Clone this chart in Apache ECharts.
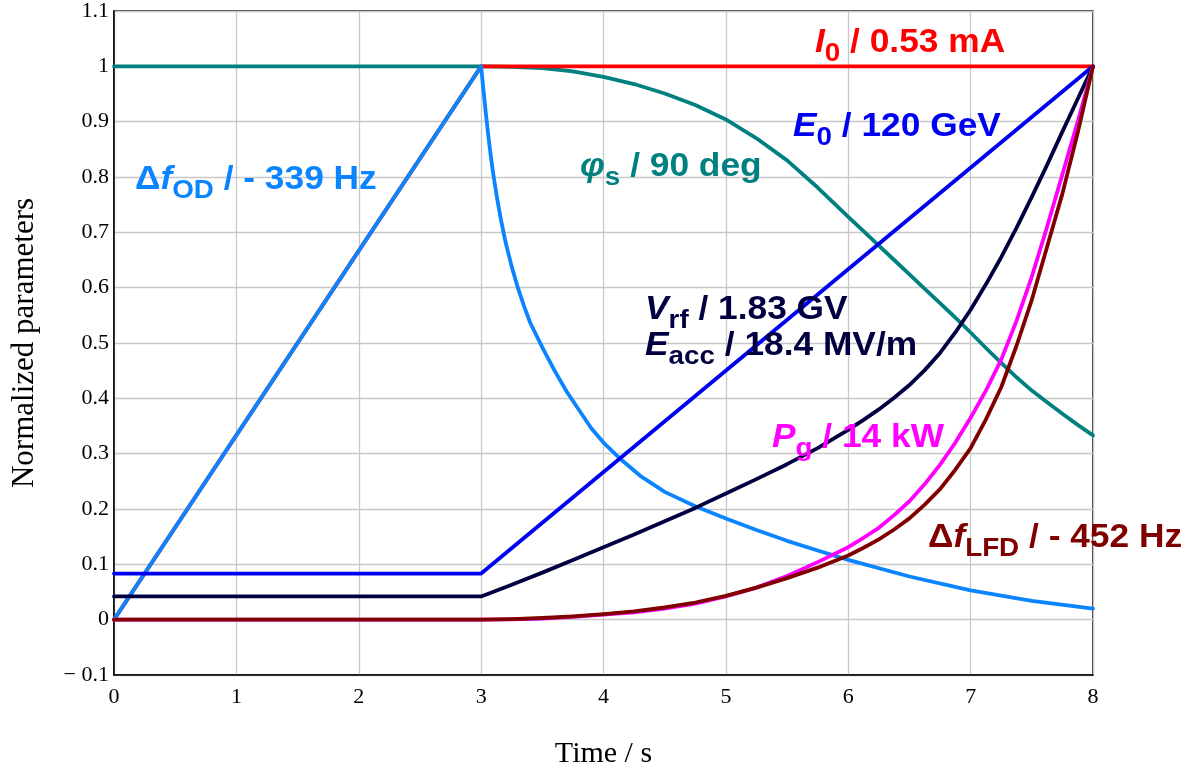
<!DOCTYPE html>
<html>
<head>
<meta charset="utf-8">
<title>Normalized ramp parameters</title>
<script src="https://cdn.jsdelivr.net/npm/echarts@6/dist/echarts.min.js"></script>
<style>
  html, body { margin: 0; padding: 0; background: #fff; }
  #chart { width: 1187px; height: 766px; }
</style>
</head>
<body>
<div id="chart"></div>
<script>
// Ramp: beam current and beam energy (linear pieces)
const tRamp = [0, 3, 8];
const beamCurrent = [0, 1, 1];          // I0 / 0.53 mA
const beamEnergy = [0.0833, 0.0833, 1]; // E0 / 120 GeV

// Common time base for the curved quantities (denser where they bend most)
const tCurve = [0, 3, 3.25, 3.5, 3.75, 4, 4.25, 4.5, 4.75, 5, 5.25, 5.5, 5.75, 6,
                6.125, 6.25, 6.375, 6.5, 6.625, 6.75, 6.875, 7, 7.125, 7.25, 7.375,
                7.5, 7.625, 7.75, 7.875, 8];
const syncPhase = [1, 1, 0.999, 0.997, 0.991, 0.981, 0.968, 0.951, 0.930, 0.904, 0.870,
                   0.830, 0.781, 0.728, 0.702, 0.676, 0.650, 0.624, 0.598, 0.572, 0.546,
                   0.519, 0.491, 0.464, 0.438, 0.414, 0.393, 0.372, 0.352, 0.333]; // phi_s / 90 deg
const rfVoltage = [0.042, 0.042, 0.063, 0.085, 0.108, 0.131, 0.154, 0.178, 0.202, 0.228,
                   0.254, 0.281, 0.310, 0.343, 0.361, 0.380, 0.401, 0.424, 0.451, 0.482,
                   0.519, 0.560, 0.606, 0.655, 0.708, 0.764, 0.822, 0.882, 0.941, 1];   // Vrf / 1.83 GV
const forwardPower = [0, 0, 0.0005, 0.002, 0.005, 0.009, 0.013, 0.020, 0.029, 0.042,
                      0.058, 0.079, 0.104, 0.131, 0.148, 0.166, 0.189, 0.214, 0.245, 0.280,
                      0.320, 0.365, 0.414, 0.470, 0.540, 0.620, 0.710, 0.805, 0.900, 1]; // Pg / 14 kW
const lorentzDetuning = [0, 0, 0.001, 0.003, 0.006, 0.010, 0.015, 0.022, 0.031, 0.043,
                         0.058, 0.075, 0.094, 0.116, 0.130, 0.145, 0.163, 0.183, 0.208, 0.236,
                         0.271, 0.310, 0.362, 0.420, 0.495, 0.578, 0.674, 0.770, 0.880, 1]; // dfLFD / -452 Hz

// Optimum detuning has its own time base, dense right after the peak
const tDetune = [0, 3, 3.02, 3.04, 3.06, 3.08, 3.1, 3.13, 3.16, 3.2, 3.25, 3.3, 3.35, 3.4,
                 3.5, 3.6, 3.7, 3.8, 3.9, 4, 4.15, 4.3, 4.5, 4.75, 5, 5.25, 5.5, 5.75, 6,
                 6.5, 7, 7.5, 8];
const optimumDetuning = [0, 1, 0.955, 0.912, 0.872, 0.836, 0.804, 0.762, 0.725, 0.682, 0.638,
                         0.600, 0.567, 0.537, 0.492, 0.450, 0.412, 0.379, 0.346, 0.320, 0.288,
                         0.260, 0.231, 0.205, 0.183, 0.162, 0.1425, 0.125, 0.108, 0.078,
                         0.053, 0.034, 0.020]; // dfOD / -339 Hz

const colors = {
  current: '#ff0000',
  energy: '#0000f0',
  phase: '#008080',
  detuneOD: '#0a84ff',
  voltage: '#000040',
  power: '#ff00ff',
  detuneLFD: '#800000'
};

const pairs = (ts, vs) => ts.map((t, i) => [t, vs[i]]);

function lineSeries(name, ts, vs, color) {
  return {
    name: name,
    type: 'line',
    data: pairs(ts, vs),
    showSymbol: false,
    symbol: 'none',
    lineStyle: { color: color, width: 3.8, cap: 'round', join: 'round' },
    itemStyle: { color: color },
    silent: true,
    animation: false
  };
}

const labelFont = 'Liberation Sans, Arial, sans-serif';
function richStyles(color) {
  const base = { fontFamily: labelFont, fontWeight: 'bold', fill: color };
  return {
    m: Object.assign({}, base, { fontSize: 33, lineHeight: 36 }),
    i: Object.assign({}, base, { fontSize: 33, lineHeight: 36, fontStyle: 'italic' }),
    s: Object.assign({}, base, { fontSize: 26, lineHeight: 26, padding: [22, 0, 0, 0] })
  };
}
function curveLabel(text, x, y, color) {
  return {
    type: 'text',
    x: x, y: y,
    scaleX: 1.07,
    z: 100,
    silent: true,
    style: {
      text: text,
      rich: richStyles(color),
      align: 'left',
      verticalAlign: 'top',
      fill: color
    }
  };
}

const serif = 'Liberation Serif, Times New Roman, serif';
const chart = echarts.init(document.getElementById('chart'), null, { renderer: 'canvas' });
chart.setOption({
  animation: false,
  backgroundColor: '#ffffff',
  grid: {
    left: 114, right: 94, top: 11, bottom: 91,
    show: true, borderColor: '#000', borderWidth: 1.5,
    outerBoundsMode: 'none'
  },
  xAxis: {
    type: 'value',
    min: 0, max: 8, interval: 1,
    name: 'Time / s',
    nameLocation: 'middle',
    nameGap: 64,
    nameTextStyle: { fontFamily: serif, fontSize: 30, color: '#000' },
    axisLine: { show: true, onZero: false, lineStyle: { color: '#000', width: 1.5 } },
    axisTick: { show: false },
    axisLabel: { fontFamily: serif, fontSize: 22, color: '#000', margin: 11 },
    splitLine: { show: true, lineStyle: { color: '#c8c8c8', width: 1.3 } }
  },
  yAxis: {
    type: 'value',
    min: -0.1, max: 1.1, interval: 0.1,
    name: 'Normalized parameters',
    nameLocation: 'middle',
    nameGap: 74,
    nameRotate: 90,
    nameTextStyle: { fontFamily: serif, fontSize: 31, color: '#000' },
    axisLine: { show: true, onZero: false, lineStyle: { color: '#000', width: 1.5 } },
    axisTick: { show: false },
    axisLabel: {
      fontFamily: serif, fontSize: 22, color: '#000', margin: 5,
      formatter: function (v) {
        const r = Math.round(v * 10) / 10;
        return r < 0 ? '\u2212 ' + Math.abs(r) : String(r);
      }
    },
    splitLine: { show: true, lineStyle: { color: '#c8c8c8', width: 1.3 } }
  },
  series: [
    lineSeries('phi_s', tCurve, syncPhase, colors.phase),
    lineSeries('I0', tRamp, beamCurrent, colors.current),
    lineSeries('df_OD', tDetune, optimumDetuning, colors.detuneOD),
    lineSeries('E0', tRamp, beamEnergy, colors.energy),
    lineSeries('Vrf', tCurve, rfVoltage, colors.voltage),
    lineSeries('Pg', tCurve, forwardPower, colors.power),
    lineSeries('df_LFD', tCurve, lorentzDetuning, colors.detuneLFD)
  ],
  graphic: [
    curveLabel('{i|I}{s|0}{m| / 0.53 mA}', 815, 25, colors.current),
    curveLabel('{i|E}{s|0}{m| / 120 GeV}', 793, 109, colors.energy),
    curveLabel('{i|\u03c6}{s|s}{m| / 90 deg}', 580, 149, colors.phase),
    curveLabel('{m|\u0394}{i|f}{s|OD}{m| / - 339 Hz}', 135, 162, colors.detuneOD),
    curveLabel('{i|V}{s|rf}{m| / 1.83 GV}\n{i|E}{s|acc}{m| / 18.4 MV/m}', 645, 292, colors.voltage),
    curveLabel('{i|P}{s|g}{m| / 14 kW}', 772, 420, colors.power),
    curveLabel('{m|\u0394}{i|f}{s|LFD}{m| / - 452 Hz}', 928, 520, colors.detuneLFD)
  ]
});
</script>
</body>
</html>
